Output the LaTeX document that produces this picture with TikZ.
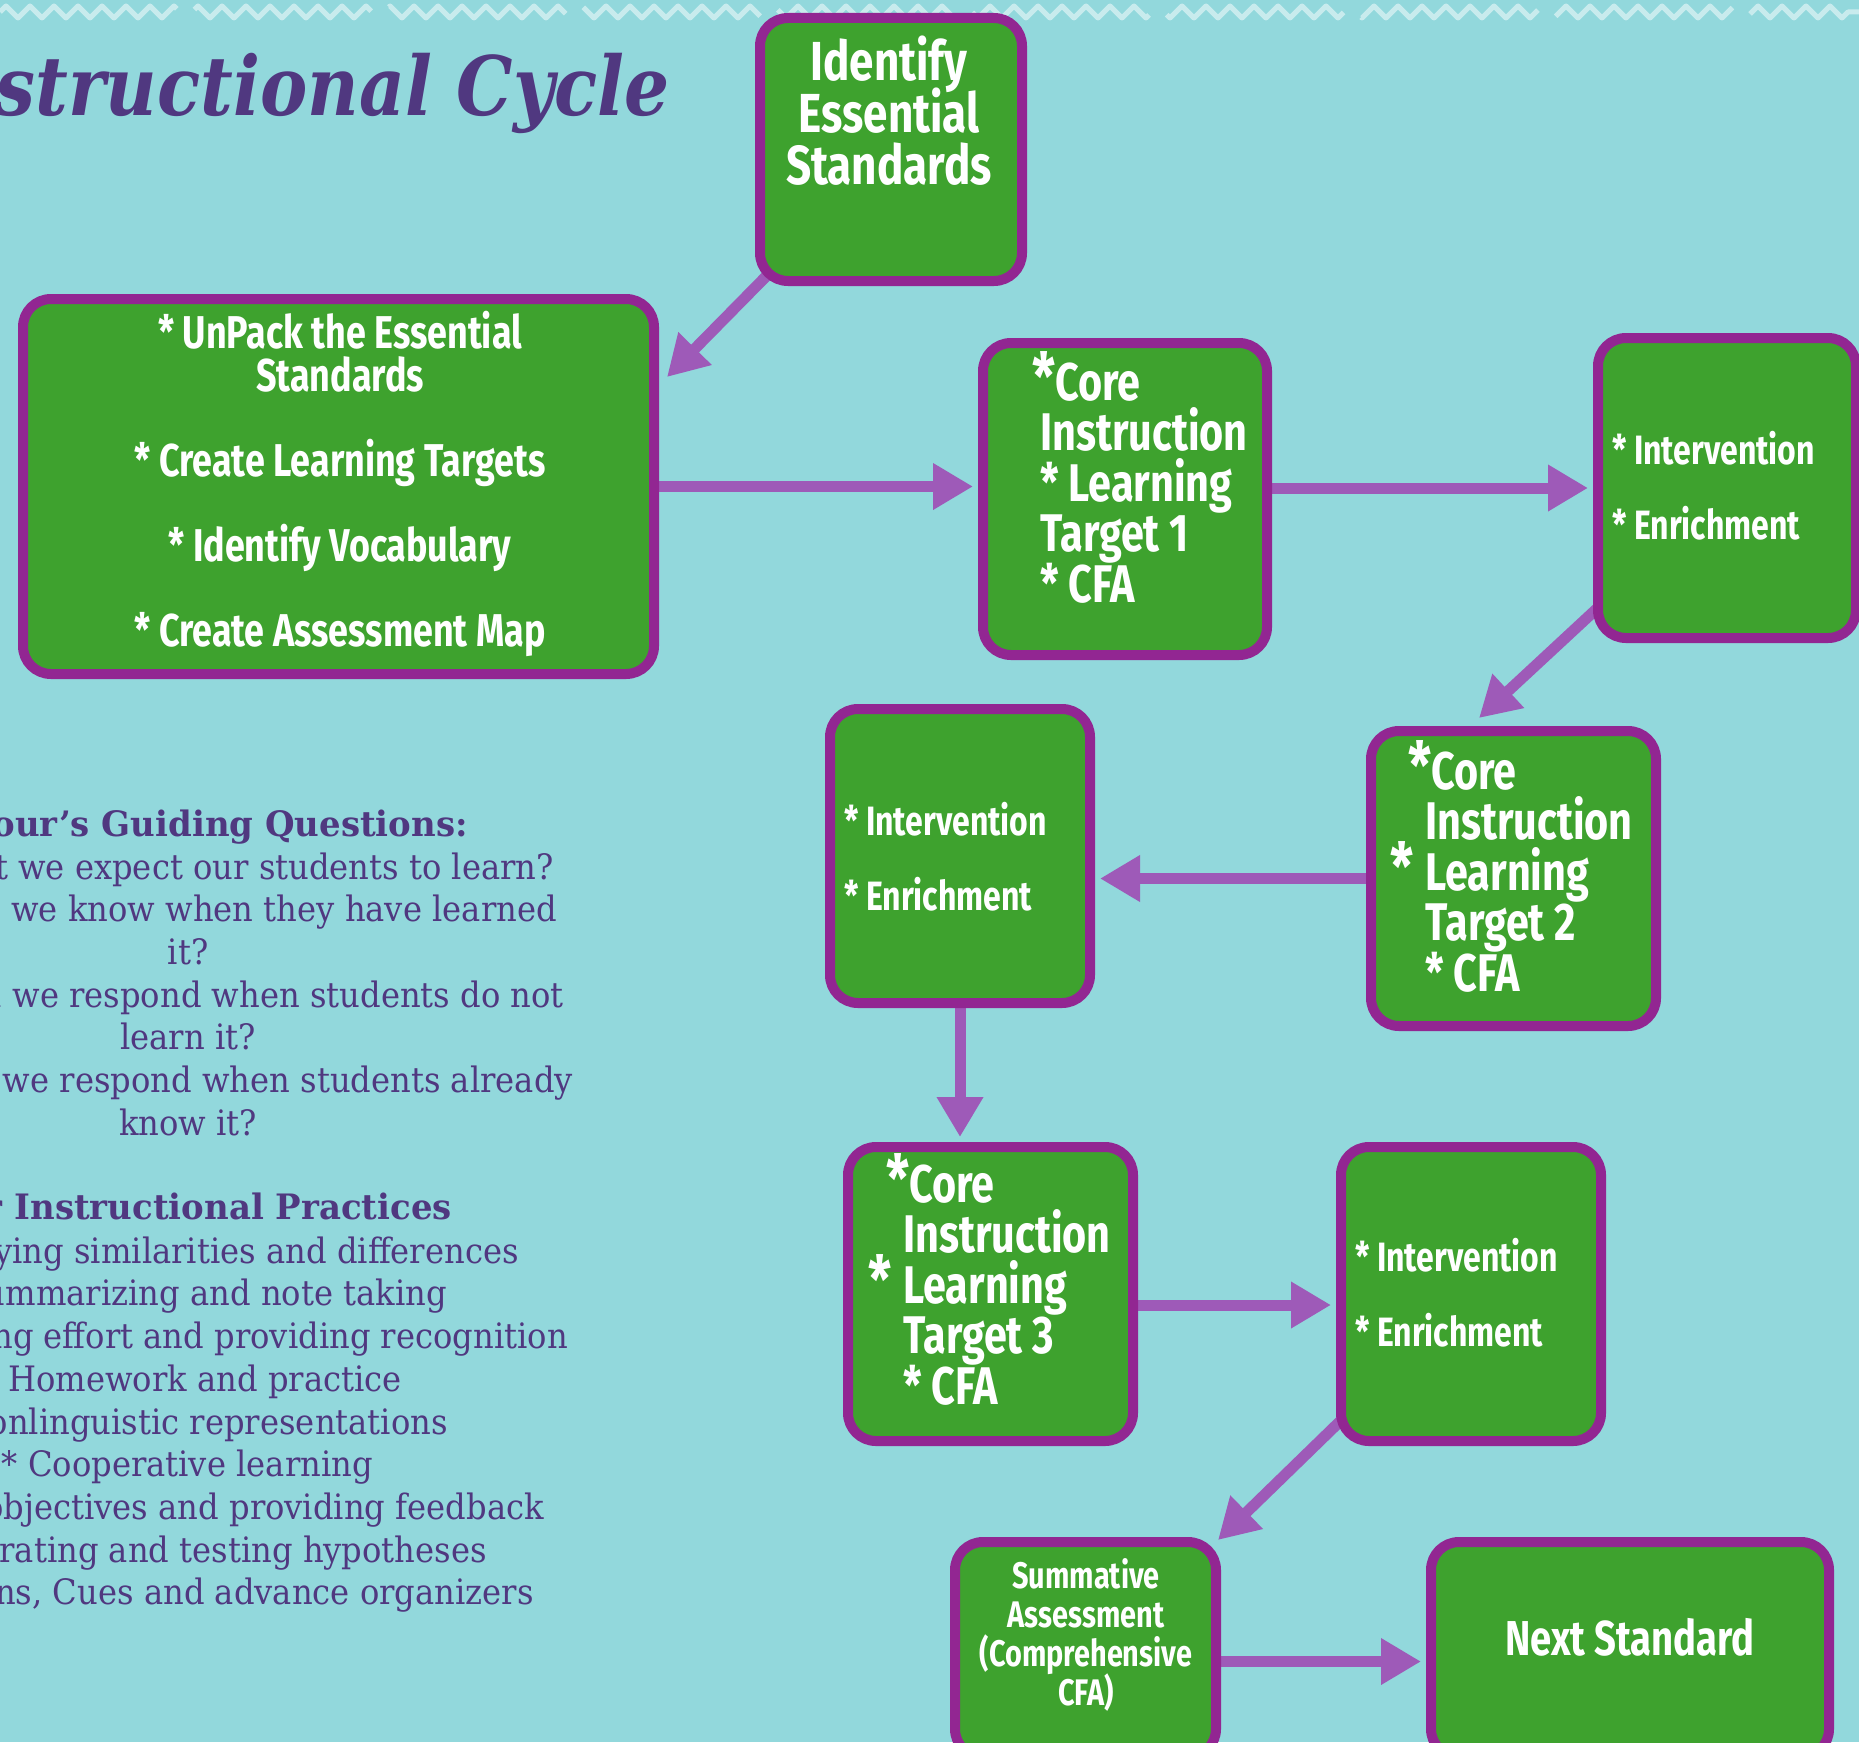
\documentclass[tikz,border=0pt]{standalone}
\usepackage{fontspec}
\setmainfont{DejaVu Serif}
\newfontfamily\boxfont[FakeStretch=0.78]{Fira Sans}
\newfontfamily\identfont[FakeStretch=0.8]{Fira Sans}
\newfontfamily\bodyfont[FakeStretch=0.92]{DejaVu Serif}
\newfontfamily\bodyboldfont[FakeStretch=0.97]{DejaVu Serif}
\newfontfamily\titlefont[FakeStretch=0.865]{DejaVu Serif}
\usetikzlibrary{arrows.meta,calc,decorations.pathmorphing}
\definecolor{bgcyan}{RGB}{146,216,220}
\definecolor{boxgreen}{RGB}{62,162,46}
\definecolor{boxpurple}{RGB}{146,38,146}
\definecolor{arrowpurple}{RGB}{158,90,184}
\definecolor{textpurple}{RGB}{80,56,128}
\newcommand{\bigast}{{\fontsize{66}{66}\selectfont *}}
\pgfdeclarelayer{bglayer}
\pgfdeclarelayer{arrowlayer}
\pgfsetlayers{bglayer,arrowlayer,main}
\tikzset{
  box/.style={draw=boxpurple, fill=boxgreen, line width=10pt, rounded corners=28pt, inner sep=0pt},
  boxtext/.style={text=white, inner sep=0pt, execute at begin node={\lineskiplimit=-100pt\relax}},
  conn/.style={draw=arrowpurple, line width=11pt, -{Triangle[length=40pt,width=44pt]}},
  body/.style={text=textpurple, inner sep=0pt, font=\bodyfont\fontsize{35}{40}\selectfont},
  bodyhead/.style={text=textpurple, inner sep=0pt, font=\bodyboldfont\bfseries\fontsize{35}{40}\selectfont},
}
\begin{document}
\begin{tikzpicture}[x=1pt,y=-1pt]
\useasboundingbox (0,0) rectangle (1859,1742);
\begin{pgfonlayer}{bglayer}
  \fill[bgcyan] (0,0) rectangle (1859,1742);
  \draw[white, opacity=0.5, line width=5pt, line join=round, dash pattern=on 250pt off 25pt, decorate, decoration={zigzag, amplitude=6pt, segment length=24pt}] (0,12) -- (1859,12);
\end{pgfonlayer}

% title and left texts
\node[anchor=base east, text=textpurple, inner sep=0pt, font=\titlefont\bfseries\itshape\fontsize{82}{82}\selectfont] (title) at (670,116) {Instructional Cycle};

\node[bodyhead, anchor=base east] (qh) at (468,836) {DuFour’s Guiding Questions:};
\node[body, anchor=base east] (q1) at (554,879) {What is it we expect our students to learn?};
\node[body, anchor=base east] (q2) at (557,921) {How will we know when they have learned};
\node[body, anchor=base] (q3) at (188,964) {it?};
\node[body, anchor=base east] (q4) at (564,1007) {How will we respond when students do not};
\node[body, anchor=base] (q5) at (188,1049) {learn it?};
\node[body, anchor=base east] (q6) at (573,1092) {How will we respond when students already};
\node[body, anchor=base] (q7) at (188,1135) {know it?};

\node[bodyhead, anchor=base east] (p0) at (452,1219) {Power Instructional Practices};
\node[body, anchor=base east] (p1) at (519,1263) {* Identifying similarities and differences};
\node[body, anchor=base east] (p2) at (447,1305) {* Summarizing and note taking};
\node[body, anchor=base east] (p3) at (568,1348) {* Reinforcing effort and providing recognition};
\node[body, anchor=base east] (p4) at (402,1391) {* Homework and practice};
\node[body, anchor=base east] (p5) at (448,1434) {* Nonlinguistic representations};
\node[body, anchor=base east] (p6) at (373,1476) {* Cooperative learning};
\node[body, anchor=base east] (p7) at (544,1519) {* Setting objectives and providing feedback};
\node[body, anchor=base east] (p8) at (487,1562) {* Generating and testing hypotheses};
\node[body, anchor=base east] (p9) at (534,1604) {* Questions, Cues and advance organizers};

% boxes
\node[box, minimum width=262pt, minimum height=263pt] (A) at (891,149.5) {};
\node[box, minimum width=631pt, minimum height=375pt] (B) at (338.5,486.5) {};
\node[box, minimum width=284pt, minimum height=312pt] (C) at (1125,499) {};
\node[box, minimum width=258pt, minimum height=300pt] (D) at (1727,488) {};
\node[box, minimum width=285pt, minimum height=295pt] (E) at (1513.5,878.5) {};
\node[box, minimum width=260pt, minimum height=294pt] (F) at (960,856) {};
\node[box, minimum width=285pt, minimum height=294pt] (G) at (990.5,1294) {};
\node[box, minimum width=260pt, minimum height=294pt] (H) at (1471,1294) {};
\node[box, minimum width=261pt, minimum height=215pt] (I) at (1085.5,1649.5) {};
\node[box, minimum width=398pt, minimum height=215pt] (J) at (1630,1649.5) {};

% box texts
\node[boxtext, align=center, font=\identfont\bfseries\fontsize{55}{52}\selectfont] (tA) at (889,111) {Identify\\Essential\\Standards};
\node[boxtext, align=center, font=\boxfont\bfseries\fontsize{46}{42.5}\selectfont] (tB) at (340,484) {* UnPack the Essential\\Standards\\[42.5pt]* Create Learning Targets\\[42.5pt]* Identify Vocabulary\\[42.5pt]* Create Assessment Map};
\node[boxtext, align=left, anchor=west, font=\boxfont\bfseries\fontsize{53}{50.5}\selectfont] (tC) at (1040,477) {\hspace*{-8pt}\bigast Core\\Instruction\\* Learning\\Target 1\\* CFA};
\node[boxtext, align=left, anchor=west, font=\boxfont\bfseries\fontsize{41}{37.5}\selectfont] (tD) at (1612,485.5) {* Intervention\\[37.5pt]* Enrichment};
\node[boxtext, align=left, anchor=west, font=\boxfont\bfseries\fontsize{53}{50.5}\selectfont] (tE) at (1425,866) {\hspace*{-17pt}\bigast Core\\Instruction\\\llap{\bigast\hspace{12pt}}Learning\\Target 2\\* CFA};
\node[boxtext, align=left, anchor=west, font=\boxfont\bfseries\fontsize{41}{37.5}\selectfont] (tF) at (844,856.5) {* Intervention\\[37.5pt]* Enrichment};
\node[boxtext, align=left, anchor=west, font=\boxfont\bfseries\fontsize{53}{50.5}\selectfont] (tG) at (903,1279) {\hspace*{-17pt}\bigast Core\\Instruction\\\llap{\bigast\hspace{12pt}}Learning\\Target 3\\* CFA};
\node[boxtext, align=left, anchor=west, font=\boxfont\bfseries\fontsize{41}{37.5}\selectfont] (tH) at (1355,1293) {* Intervention\\[37.5pt]* Enrichment};
\node[boxtext, align=center, font=\boxfont\bfseries\fontsize{37}{39}\selectfont] (tI) at (1086,1635) {Summative\\Assessment\\(Comprehensive\\CFA)};
\node[boxtext, align=center, font=\boxfont\bfseries\fontsize{49}{49}\selectfont] (tJ) at (1630,1637) {Next Standard};

% connectors
\begin{pgfonlayer}{arrowlayer}
  \draw[conn] (A.center) -- ($(B.north east)+(8,83)$);
  \draw[conn, shorten >=5pt] (B.center) -- (B.center -| C.west);
  \draw[conn, shorten >=5pt] (C.center |- D.center) -- (D.west);
  \draw[conn] (D.center) -- ($(E.north west)+(113,-8)$);
  \draw[conn, shorten >=5pt] (E.center) -- (E.center -| F.east);
  \draw[conn, shorten >=5pt] (F.center) -- (F.center |- G.north);
  \draw[conn, shorten >=5pt] ($(G.center)+(0,11)$) -- ($(H.west)+(0,11)$);
  \draw[conn] (H.center) -- ($(I.north east)+(-3,3)$);
  \draw[conn, shorten >=5pt] ($(I.center)+(0,12)$) -- ($(J.west)+(0,12)$);
\end{pgfonlayer}
\end{tikzpicture}
\end{document}
